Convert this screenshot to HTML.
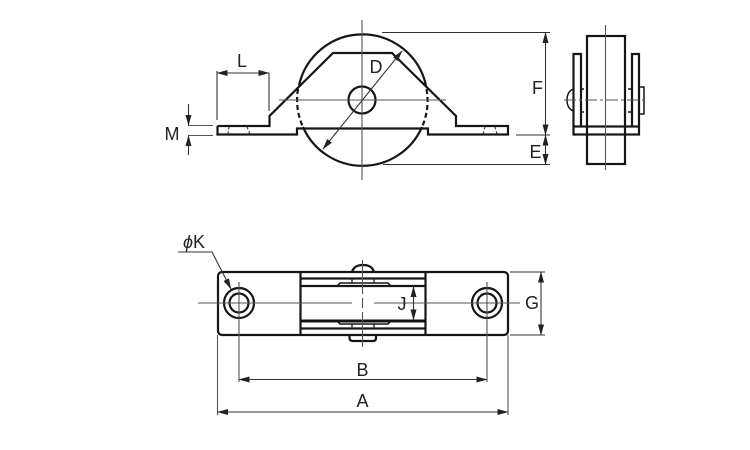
<!DOCTYPE html>
<html><head><meta charset="utf-8"><style>
html,body{margin:0;padding:0;background:#fff}
svg{display:block}
text{font-family:"Liberation Sans",sans-serif;font-size:18px;fill:#222;text-anchor:middle}
.o{fill:none;stroke:#161616;stroke-width:2.2}
.t{fill:none;stroke:#333;stroke-width:1.1}
.c{fill:none;stroke:#555;stroke-width:1.1}
</style></head><body>
<svg width="750" height="450" viewBox="0 0 750 450" xmlns="http://www.w3.org/2000/svg">
<defs>
<marker id="h" markerUnits="userSpaceOnUse" markerWidth="11" markerHeight="6" refX="10.5" refY="3" orient="auto-start-reverse"><path d="M0 0L11 3L0 6z" fill="#222"/></marker>
</defs>

<!-- Front view -->
<path class="o" d="M299 85.500A65 65 0 0 1 426 85.500"/>
<path class="o" d="M303 127A65 65 0 0 0 422 127"/>
<path class="o" stroke-dasharray="5 3" d="M426.500 89A65 65 0 0 1 422 127"/>
<path class="o" stroke-dasharray="5 3" d="M298 89A65 65 0 0 0 303 127"/>
<circle class="o" cx="362" cy="100" r="13.500"/>
<path class="o" d="M217.500 126V134.500H297V128.500H428V134.500H508V126H456V116L392 53H333L269.500 116V126H217.500"/>
<path class="t" stroke-dasharray="2.500 2" d="M229 127L228 134M247 127L250 134M485 127L483 134M495 127L497 134"/>
<path class="c" d="M279 100H446M362 20V180"/>
<path class="t" marker-start="url(#h)" marker-end="url(#h)" d="M323 149L402 51"/>

<!-- L -->
<path class="t" d="M217 71V120M269 73V111"/>
<path class="t" marker-start="url(#h)" marker-end="url(#h)" d="M217 73H269"/>
<text x="242" y="67">L</text>
<!-- M -->
<path class="c" d="M188 125.500H213M188 135.500H213"/>
<path class="t" marker-end="url(#h)" d="M188.500 104V125.500"/>
<path class="t" marker-end="url(#h)" d="M188.500 155V135.500"/>
<text x="172" y="140">M</text>
<!-- D -->
<text x="376" y="73">D</text>
<!-- F E -->
<path class="t" d="M382 32.500H550M516 135H550M383 164.500H550"/>
<path class="t" marker-start="url(#h)" marker-end="url(#h)" d="M545.500 32.500V135"/>
<path class="t" marker-start="url(#h)" marker-end="url(#h)" d="M545.500 135V164.500"/>
<text x="537.500" y="94">F</text>
<text x="535.500" y="158">E</text>

<!-- Side view -->
<rect class="o" x="587" y="36" width="38" height="128"/>
<path class="o" d="M581 126.500V54H573.500V126.500M632 126.500V54H639V126.500"/>
<rect class="o" x="573.500" y="126.500" width="65.500" height="8"/>
<path class="o" style="stroke-width:1.500" d="M573 89Q567 92 567 100Q567 108 573 111M639 87H644V114H639"/>
<path class="o" style="stroke-width:1.500" d="M581 89H584M581 112H584M628 89H632M628 112H632"/>
<path class="c" d="M605.500 25V170"/>
<path class="c" stroke-dasharray="12 3 3 3" d="M564 100H648"/>

<!-- Top view -->
<path class="o" d="M352 272Q354 265 363 265Q372 265 374 272"/>
<path class="o" d="M349.500 335V338Q349.500 341 353 341H373Q376 341 376 338V335"/>
<rect class="o" x="218" y="272" width="290" height="63" rx="4"/>
<path class="o" d="M300.500 272V335M425.500 272V335M300.500 278.500H425.500M300.500 286H425.500M300.500 328.500H425.500"/>
<path d="M300.500 321H425.500" stroke="#111" stroke-width="3" fill="none"/>
<path class="t" style="stroke-width:1.500" d="M352 278.500V283M374 278.500V283M352 324V328.500M374 324V328.500"/>
<path class="o" style="stroke-width:1.500" d="M337 286L340 283H388L391 286M337 321L340 324H388L391 321"/>
<circle class="o" cx="239" cy="303" r="15"/>
<circle class="o" cx="239" cy="303" r="9.500"/>
<circle class="o" cx="487" cy="303" r="15"/>
<circle class="o" cx="487" cy="303" r="9.500"/>
<path class="c" d="M198 303H352M374 303H520M362.500 260V347M239 282V382M487 282V382"/>
<path d="M355 303H359M366 303H370M362.500 294V298M362.500 308V312" stroke="#fff" stroke-width="2"/>

<!-- phi K -->
<text x="194" y="248" style="font-style:italic">&#981;<tspan style="font-style:normal">K</tspan></text>
<path class="t" marker-end="url(#h)" d="M178 252H212L231 289"/>

<!-- J -->
<path class="t" marker-start="url(#h)" marker-end="url(#h)" d="M413.500 286.500V320"/>
<text x="402" y="310">J</text>
<!-- G -->
<path class="t" d="M510 272H545M510 335H545"/>
<path class="t" marker-start="url(#h)" marker-end="url(#h)" d="M541 272V335"/>
<text x="532" y="309">G</text>
<!-- B A -->
<path class="c" d="M217.500 335V415M508 335V415"/>
<path class="t" marker-start="url(#h)" marker-end="url(#h)" d="M239 379.500H487"/>
<text x="362.500" y="376">B</text>
<path class="t" marker-start="url(#h)" marker-end="url(#h)" d="M217.500 412H508"/>
<text x="362.500" y="407">A</text>
</svg>
</body></html>
